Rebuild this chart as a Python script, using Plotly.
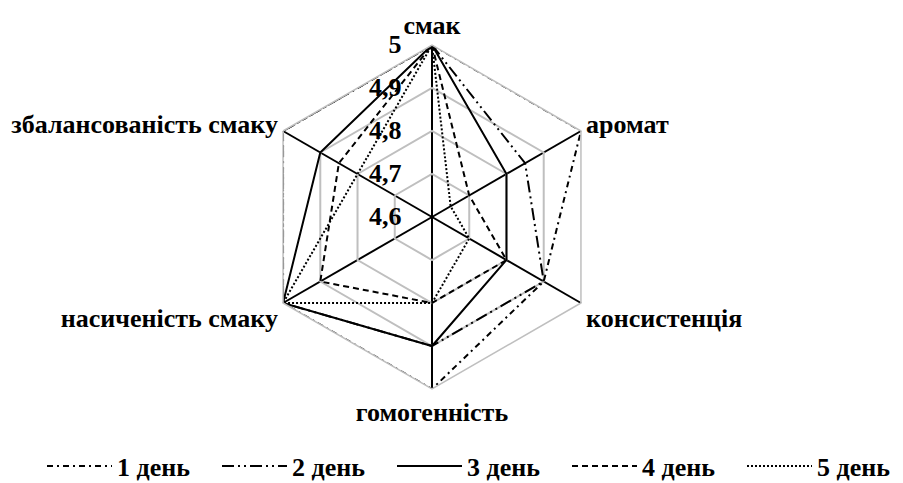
import plotly.graph_objects as go

categories = ["смак", "аромат", "консистенція", "гомогенність",
              "насиченість смаку", "збалансованість смаку"]
series_names = ["1 день", "2 день", "3 день", "4 день", "5 день"]
day1 = [5.0, 5.0, 4.9, 5.0, 5.0, 5.0]
day2 = [5.0, 4.85, 4.9, 4.9, 5.0, 5.0]
day3 = [5.0, 4.8, 4.8, 4.9, 5.0, 4.9]
day4 = [5.0, 4.7, 4.8, 4.8, 4.9, 4.85]
day5 = [5.0, 4.65, 4.7, 4.8, 5.0, 4.8]
radial_ticks = [4.6, 4.7, 4.8, 4.9, 5.0]
radial_tick_labels = ["4,6", "4,7", "4,8", "4,9", "5"]

dashes = ["6px,4px,2px,4px", "12px,4px,2px,4px,2px,4px", "solid", "6px,4px", "2px,2px"]
values = [day1, day2, day3, day4, day5]

FONT = "Liberation Serif"
FS = 26
# invisible padding so the radial labels sit left of the axis, as in the reference
PAD = "<span style='color:rgba(0,0,0,0)'>00</span>"

fig = go.Figure()
for name, vals, dash in zip(series_names, values, dashes):
    fig.add_trace(go.Scatterpolar(
        r=vals + [vals[0]],
        theta=categories + [categories[0]],
        mode="lines",
        name=name,
        line=dict(color="black", width=2, dash=dash),
    ))

fig.update_layout(
    width=903, height=483,
    margin=dict(l=0, r=0, t=0, b=0, autoexpand=False),
    paper_bgcolor="white",
    font=dict(family=FONT, size=FS, color="black"),
    polar=dict(
        domain=dict(x=[260/903, 604/903], y=[1-389/483, 1-45/483]),
        bgcolor="white",
        gridshape="linear",
        angularaxis=dict(
            rotation=90, direction="clockwise",
            showline=True, linecolor="#BFBFBF", linewidth=1.5,
            gridcolor="black", gridwidth=1.5,
            ticks="",
            tickfont=dict(family=FONT, size=FS, color="black", weight="bold"),
        ),
        radialaxis=dict(
            range=[4.6, 5.0], tickvals=radial_ticks,
            ticktext=[t + PAD for t in radial_tick_labels],
            angle=90, side="counterclockwise", tickangle=90,
            showline=False, ticks="",
            gridcolor="#BFBFBF", gridwidth=1.5,
            tickfont=dict(family=FONT, size=FS, color="black", weight="bold"),
        ),
    ),
    legend=dict(
        orientation="h", x=42/903, xanchor="left", y=1-466/483, yanchor="middle",
        font=dict(family=FONT, size=FS, color="black", weight="bold"),
        itemwidth=65, entrywidth=95,
    ),
)

fig.write_html("out.html", post_script="document.body.style.margin='0';",
               config={"displayModeBar": False})
